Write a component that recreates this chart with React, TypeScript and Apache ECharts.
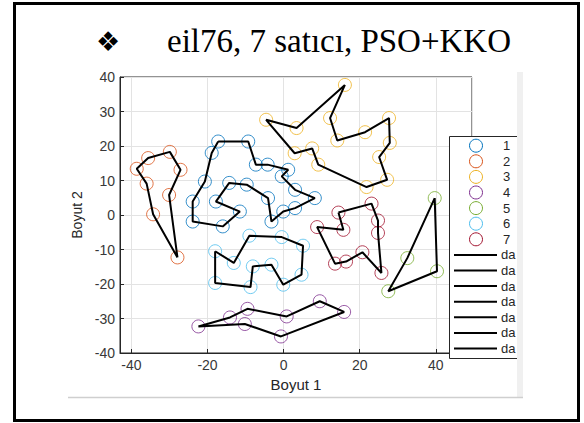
import React, { useEffect, useRef } from "react";
import * as echarts from "echarts";

// Group labels and MATLAB default colours
const groupNames = ["1", "2", "3", "4", "5", "6", "7"];
const groupColors = ["#0072BD", "#D95319", "#EDB120", "#7E2F8E", "#77AC30", "#4DBEEE", "#A2142F"];

// Each salesman's cities, listed in tour order (the tour is closed back to the first city)
const tour1 = [
  [-17.2, 21.3], [-9.3, 21.3], [-7.3, 14.6], [-4.2, 14.6], [1.2, 13.1], [-0.5, 11.2], [3.0, 7.3],
  [8.2, 4.9], [3.0, 2.0], [-0.1, 1.0], [-3.2, -1.9], [-4.1, 4.9], [-9.7, 8.8], [-14.3, 9.3],
  [-17.8, 3.9], [-11.5, 1.0], [-16.0, -3.3], [-23.9, -1.9], [-23.9, 3.9], [-20.7, 9.7], [-18.9, 18.0],
];
const tour2 = [
  [-27.9, -12.3], [-34.3, 0.2], [-36.0, 9.1], [-38.6, 13.4], [-35.6, 16.5], [-29.9, 18.3],
  [-27.1, 13.1], [-30.1, 5.8],
];
const tour3 = [
  [16.1, 37.7], [3.4, 25.2], [-4.6, 27.6], [2.9, 17.9], [7.5, 19.3], [9.1, 14.6], [21.8, 8.1],
  [27.2, 10.2], [25.1, 16.8], [27.9, 20.9], [27.7, 28.1], [21.4, 24.0], [14.1, 21.6], [12.2, 28.1],
];
const tour4 = [
  [-22.4, -32.3], [-14.1, -29.7], [-9.5, -27.2], [0.8, -29.4], [9.5, -25.0], [15.9, -28.1],
  [-0.7, -35.2], [-10.2, -31.6],
];
const tour5 = [[39.7, 4.9], [40.3, -16.3], [27.5, -22.1], [32.5, -12.5]];
const tour6 = [
  [-18.0, -10.5], [-13.1, -13.9], [-9.0, -6.0], [-0.5, -6.4], [5.1, -8.9], [4.7, -17.3],
  [-0.1, -20.2], [-3.2, -14.4], [-8.1, -14.9], [-8.7, -20.9], [-18.0, -19.7],
];
const tour7 = [
  [14.4, 0.7], [23.1, 3.3], [24.8, -1.6], [24.8, -5.2], [25.7, -16.8], [20.7, -10.8],
  [16.4, -13.5], [13.5, -14.1], [8.8, -3.5], [15.7, -4.3],
];
const tours = [tour1, tour2, tour3, tour4, tour5, tour6, tour7];

const lineLegendLabel = "da";
const titleText = "eil76, 7 satıcı, PSO+KKO";
const xName = "Boyut 1";
const yName = "Boyut 2";

export default function App() {
  const ref = useRef<HTMLDivElement>(null);

  useEffect(() => {
    const chart = echarts.init(ref.current!, null, { renderer: "svg" });
    const axisColor = "#262626";
    const font = "Liberation Sans, Arial, sans-serif";

    const scatterSeries = tours.map((t, i) => ({
      type: "scatter",
      name: groupNames[i],
      data: t,
      symbol: "circle",
      symbolSize: 13,
      itemStyle: { color: "rgba(0,0,0,0)", borderColor: groupColors[i], borderWidth: 1 },
      z: 2,
      silent: true,
    }));
    const lineSeries = tours.map((t, i) => ({
      type: "line",
      name: "line" + i,
      data: [...t, t[0]],
      showSymbol: false,
      symbol: "none",
      lineStyle: { color: "#000", width: 2 },
      z: 3,
      silent: true,
    }));

    const legendX = 449;
    const legendTop = 136;
    const legendBottom = 358;
    const legendClip = 517;
    const rowStart = 145.7;
    const rowStep = 15.6;
    const legendEls: any[] = [
      {
        type: "rect",
        shape: { x: legendX, y: legendTop, width: legendClip - legendX, height: legendBottom - legendTop },
        style: { fill: "#fff" },
        z: 10,
      },
      {
        type: "polyline",
        shape: { points: [[legendClip, legendTop + 0.5], [legendX + 0.5, legendTop + 0.5], [legendX + 0.5, legendBottom + 0.5], [legendClip, legendBottom + 0.5]] },
        style: { fill: "none", stroke: axisColor, lineWidth: 1 },
        z: 11,
      },
    ];
    groupNames.forEach((n, i) => {
      const y = rowStart + rowStep * i;
      legendEls.push({
        type: "circle",
        shape: { cx: 476, cy: y, r: 6.5 },
        style: { fill: "none", stroke: groupColors[i], lineWidth: 1 },
        z: 11,
      });
      legendEls.push({
        type: "text",
        x: 503,
        y: y,
        style: { text: n, fontSize: 13, fontFamily: font, fill: axisColor, verticalAlign: "middle", align: "left" },
        z: 11,
      });
    });
    tours.forEach((_, i) => {
      const y = rowStart + rowStep * (groupNames.length + i);
      legendEls.push({
        type: "line",
        shape: { x1: 454, y1: y, x2: 497, y2: y },
        style: { stroke: "#000", lineWidth: 2 },
        z: 11,
      });
      legendEls.push({
        type: "text",
        x: 501,
        y: y,
        style: { text: lineLegendLabel, fontSize: 13, fontFamily: font, fill: axisColor, verticalAlign: "middle", align: "left" },
        z: 11,
      });
    });

    const option: any = {
      animation: false,
      backgroundColor: "#fff",
      grid: { left: 120, right: 112, top: 77, bottom: 70, show: true, borderColor: axisColor, borderWidth: 1, containLabel: false },
      xAxis: {
        type: "value",
        min: -43,
        max: 49.5,
        minInterval: 20,
        maxInterval: 20,
        name: xName,
        nameLocation: "middle",
        nameGap: 24,
        nameTextStyle: { fontSize: 15, color: axisColor, fontFamily: font },
        axisLine: { show: true, onZero: false, lineStyle: { color: axisColor, width: 1 } },
        axisTick: { show: true, inside: true, length: 4, lineStyle: { color: axisColor } },
        axisLabel: {
          fontSize: 14,
          color: "#383838",
          fontFamily: font,
          margin: 5,
          formatter: (v: number) => (Math.abs(v % 20) < 1e-9 ? String(v) : ""),
        },
        splitLine: { show: true, lineStyle: { color: "#e3e3e3", width: 1 } },
      },
      yAxis: {
        type: "value",
        min: -40,
        max: 40,
        interval: 10,
        name: yName,
        nameLocation: "middle",
        nameGap: 31,
        nameTextStyle: { fontSize: 14, color: axisColor, fontFamily: font },
        axisLine: { show: true, onZero: false, lineStyle: { color: axisColor, width: 1 } },
        axisTick: { show: true, inside: true, length: 4, lineStyle: { color: axisColor } },
        axisLabel: { fontSize: 14, color: "#383838", fontFamily: font, margin: 5 },
        splitLine: { show: true, lineStyle: { color: "#e3e3e3", width: 1 } },
      },
      series: [...scatterSeries, ...lineSeries],
      graphic: [
        {
          type: "rect",
          shape: { x: 517, y: 72, width: 6, height: 326 },
          style: { fill: "#f0f0f0" },
          z: 12,
        },
        {
          type: "line",
          shape: { x1: 68, y1: 397.5, x2: 523, y2: 397.5 },
          style: { stroke: "#cfcfcf", lineWidth: 1.5 },
          z: 12,
        },
        {
          type: "rect",
          shape: { x: 14.5, y: 3.5, width: 564, height: 417 },
          style: { fill: "none", stroke: "#000", lineWidth: 3 },
          z: 12,
        },
        {
          type: "text",
          x: 108,
          y: 41,
          style: { text: "❖", fontSize: 27, fontFamily: "DejaVu Sans", fill: "#000", align: "center", verticalAlign: "middle" },
          z: 12,
        },
        {
          type: "text",
          x: 167,
          y: 41,
          style: { text: titleText, fontSize: 33, fontFamily: "Liberation Serif, Times New Roman, serif", fill: "#000", align: "left", verticalAlign: "middle" },
          z: 12,
        },
        ...legendEls,
      ],
    };
    chart.setOption(option);
    return () => chart.dispose();
  }, []);

  return (
    <div
      ref={ref}
      style={{ position: "fixed", left: 0, top: 0, width: 584, height: 423, background: "#fff" }}
    />
  );
}
